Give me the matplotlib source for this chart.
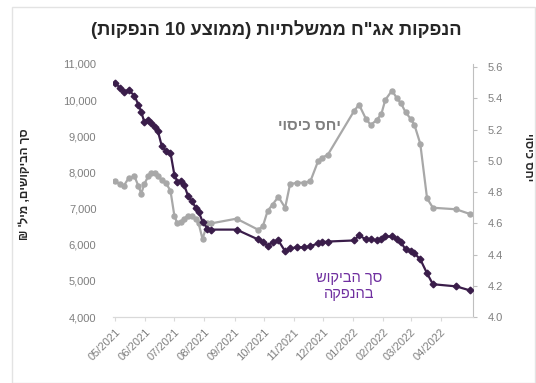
import re
import matplotlib
matplotlib.use('Agg')
import matplotlib.pyplot as plt
import matplotlib.dates as mdates
import pandas as pd
from matplotlib.patches import Rectangle

plt.rcParams['font.family'] = ['Liberation Sans', 'DejaVu Sans']

# issue dates (each point = average of last 10 issues)
dates = ['2021-05-01', '2021-05-06', '2021-05-10', '2021-05-15', '2021-05-21',
         '2021-05-25', '2021-05-28', '2021-05-31', '2021-06-04', '2021-06-07',
         '2021-06-11', '2021-06-14', '2021-06-18', '2021-06-22', '2021-06-27',
         '2021-07-01', '2021-07-04', '2021-07-08', '2021-07-11', '2021-07-15',
         '2021-07-19', '2021-07-23', '2021-07-26', '2021-07-30', '2021-08-04',
         '2021-08-08', '2021-09-03', '2021-09-25', '2021-09-30', '2021-10-05',
         '2021-10-10', '2021-10-16', '2021-10-23', '2021-10-28', '2021-11-04',
         '2021-11-11', '2021-11-18', '2021-11-26', '2021-11-30', '2021-12-06',
         '2022-01-02', '2022-01-07', '2022-01-14', '2022-01-19', '2022-01-25',
         '2022-01-30', '2022-02-03', '2022-02-10', '2022-02-15', '2022-02-19',
         '2022-02-24', '2022-03-01', '2022-03-05', '2022-03-11', '2022-03-18',
         '2022-03-24', '2022-04-17', '2022-05-01']

# total demand, NIS millions (left axis)
demand = [10480, 10340, 10230, 10280, 10120, 9870, 9680, 9400, 9450, 9370,
          9260, 9150, 8740, 8600, 8550, 7940, 7750, 7770, 7660, 7360,
          7200, 7030, 6920, 6640, 6450, 6420, 6420, 6150, 6070, 5980,
          6070, 6120, 5820, 5900, 5930, 5930, 5960, 6040, 6070, 6090,
          6120, 6260, 6150, 6150, 6120, 6150, 6230, 6230, 6150, 6070,
          5870, 5820, 5760, 5600, 5210, 4910, 4850, 4740]

# bid-to-cover ratio (right axis)
coverage = [4.87, 4.85, 4.84, 4.89, 4.90, 4.84, 4.79, 4.85, 4.90, 4.92,
            4.92, 4.90, 4.88, 4.86, 4.81, 4.65, 4.60, 4.61, 4.63, 4.65,
            4.65, 4.63, 4.60, 4.50, 4.60, 4.60, 4.63, 4.56, 4.58, 4.68,
            4.72, 4.77, 4.70, 4.85, 4.86, 4.86, 4.87, 5.00, 5.02, 5.04,
            5.32, 5.36, 5.27, 5.23, 5.26, 5.30, 5.39, 5.45, 5.40, 5.37,
            5.31, 5.27, 5.23, 5.11, 4.76, 4.70, 4.69, 4.66]

month_ticks = ['2021-05-01', '2021-06-01', '2021-07-01', '2021-08-01', '2021-09-01',
               '2021-10-01', '2021-11-01', '2021-12-01', '2022-01-01', '2022-02-01',
               '2022-03-01', '2022-04-01']

left_ticks = [4000, 5000, 6000, 7000, 8000, 9000, 10000, 11000]
right_ticks = [4.0, 4.2, 4.4, 4.6, 4.8, 5.0, 5.2, 5.4, 5.6]

title = 'הנפקות אג"ח ממשלתיות (ממוצע 10 הנפקות)'
left_label = "סך הביקושים, מיל' ₪"
right_label = 'יחס כיסוי'
demand_note = 'סך הביקוש\nבהנפקה'


def rtl(s):
    # matplotlib has no bidi support: flip Hebrew to visual order
    lines = []
    for line in s.split('\n'):
        out = line[::-1]
        out = re.sub(r'\d+', lambda m: m.group(0)[::-1], out)
        lines.append(out.translate(str.maketrans('()', ')(')))
    return '\n'.join(lines)


x = pd.to_datetime(dates)
tick_color = '#7f7f7f'
purple_line = '#3a1d4a'
gray_line = '#a8a8a8'

fig = plt.figure(figsize=(5.36, 3.83), dpi=100)
ax = fig.add_axes([0.211, 0.172, 0.671, 0.661])
ax2 = ax.twinx()

ax2.plot(x, coverage, color=gray_line, lw=1.6, marker='o', ms=3.6,
         mec=gray_line, mfc=gray_line)
ax.plot(x, demand, color=purple_line, lw=1.6, marker='D', ms=3.4,
        mec=purple_line, mfc=purple_line)

# keep the demand line above the coverage line
ax.set_zorder(ax2.get_zorder() + 1)
ax.patch.set_visible(False)

ax.set_xlim(pd.Timestamp('2021-04-29'), pd.Timestamp('2022-05-04'))
ax.set_ylim(4000, 11000)
ax2.set_ylim(4.0, 5.62)

ax.set_yticks(left_ticks)
ax.set_yticklabels([f'{v:,}' for v in left_ticks])
ax2.set_yticks(right_ticks)
ax2.set_yticklabels([f'{v:.1f}' for v in right_ticks])

ax.set_xticks(pd.to_datetime(month_ticks))
ax.xaxis.set_major_formatter(mdates.DateFormatter('%m/%Y'))
for lbl in ax.get_xticklabels():
    lbl.set_rotation(45)
    lbl.set_ha('right')
    lbl.set_rotation_mode('anchor')

ax.tick_params(axis='y', length=0, pad=12, labelsize=8, labelcolor=tick_color)
ax.tick_params(axis='x', length=3, color='#d9d9d9', pad=4, labelsize=8,
               labelcolor=tick_color)
ax2.tick_params(axis='y', length=3, color='#bfbfbf', pad=8, labelsize=8,
                labelcolor=tick_color)

for a in (ax, ax2):
    for side in ('top', 'left', 'right'):
        a.spines[side].set_visible(False)
    a.spines['bottom'].set_color('#d9d9d9')
ax2.spines['right'].set_visible(True)
ax2.spines['right'].set_color('#bfbfbf')

fig.text(0.516, 0.922, rtl(title), ha='center', va='center', fontsize=13.2,
         fontweight='bold', color='#262626')
fig.text(0.046, 0.52, rtl(left_label), rotation=90, ha='center', va='center',
         fontsize=8.5, fontweight='bold', color='#262626')
fig.text(0.985, 0.59, rtl(right_label), rotation=-90, ha='center', va='center',
         fontsize=8.5, fontweight='bold', color='#262626')

ax.text(pd.Timestamp('2021-11-17'), 9280, rtl(right_label), ha='center',
        va='center', fontsize=11, fontweight='bold', color='#7f7f7f')
ax.text(pd.Timestamp('2021-12-28'), 4860, rtl(demand_note), ha='center',
        va='center', fontsize=10.5, color='#7030a0', linespacing=1.15)

fig.patches.append(Rectangle((0.022, 0.0), 0.976, 0.982, transform=fig.transFigure,
                             fill=False, edgecolor='#e3e3e3', lw=1))

fig.savefig('out.png', dpi=100)
